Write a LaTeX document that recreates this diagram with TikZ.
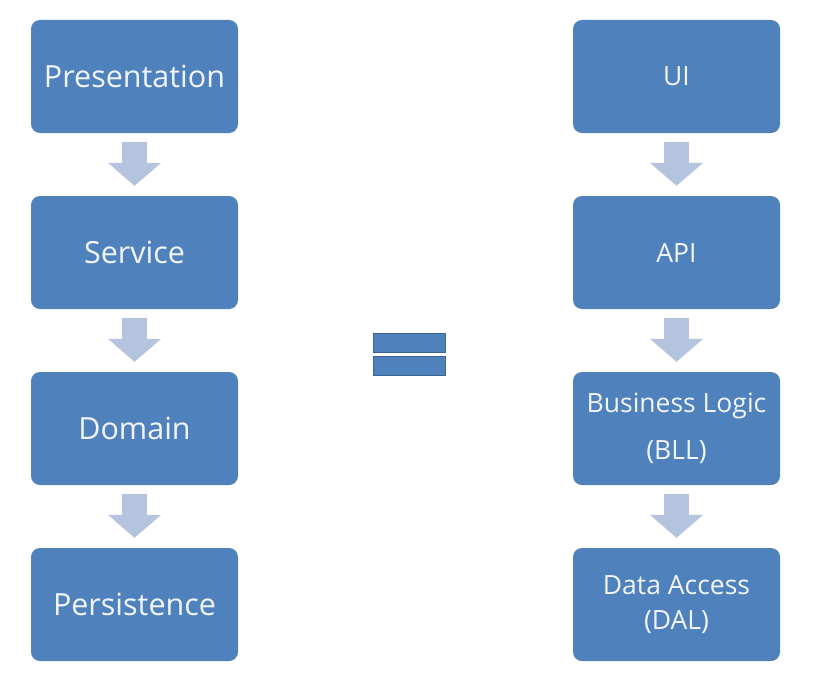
\documentclass[tikz,border=0pt]{standalone}
\usepackage{fontspec}
\setmainfont{Open Sans}
\usetikzlibrary{arrows.meta}
\definecolor{boxblue}{HTML}{4F81BD}
\definecolor{arrowblue}{HTML}{B5C4DE}
\definecolor{boxtext}{HTML}{F2F5FA}
\definecolor{eqedge}{HTML}{3B6394}
\begin{document}
\begin{tikzpicture}[x=1pt, y=-1pt,
    layer/.style={rectangle, rounded corners=9pt, fill=boxblue, text=boxtext, minimum width=207pt, minimum height=113pt, inner sep=0pt, align=center},
    bigtext/.style={font=\fontsize{30.5}{36}\selectfont},
    smalltext/.style={font=\fontsize{26.5}{32}\selectfont},
    downarrow/.style={draw=arrowblue, line width=25pt, -{Triangle[width=52pt, length=23pt]}, shorten <=9pt, shorten >=10pt},
    eqbar/.style={rectangle, draw=eqedge, fill=boxblue, line width=1.2pt, minimum width=72pt, minimum height=19pt, inner sep=0pt}
]
\useasboundingbox[fill=white] (0,0) rectangle (816,677);

% left stack
\node[layer, bigtext] (pres) at (134.5,76.5) {Presentation};
\node[layer, bigtext] (serv) at (134.5,252.5) {Service};
\node[layer, bigtext] (dom) at (134.5,428.5) {Domain};
\node[layer, bigtext] (pers) at (134.5,604.5) {Persistence};

% right stack
\node[layer, smalltext] (ui) at (676.5,76.5) {UI};
\node[layer, smalltext] (api) at (676.5,252.5) {API};
\node[layer, font=\fontsize{26.5}{47}\selectfont] (bll) at (676.5,428.5) {Business Logic\\(BLL)};
\node[layer, font=\fontsize{26.5}{35}\selectfont] (dal) at (676.5,604.5) {Data Access\\(DAL)};

\draw[downarrow] (pres.south) -- (serv.north);
\draw[downarrow] (serv.south) -- (dom.north);
\draw[downarrow] (dom.south) -- (pers.north);
\draw[downarrow] (ui.south) -- (api.north);
\draw[downarrow] (api.south) -- (bll.north);
\draw[downarrow] (bll.south) -- (dal.north);

% equals sign
\node[eqbar] (eqtop) at (409.5,343) {};
\node[eqbar] (eqbot) at (409.5,366) {};

\end{tikzpicture}
\end{document}
